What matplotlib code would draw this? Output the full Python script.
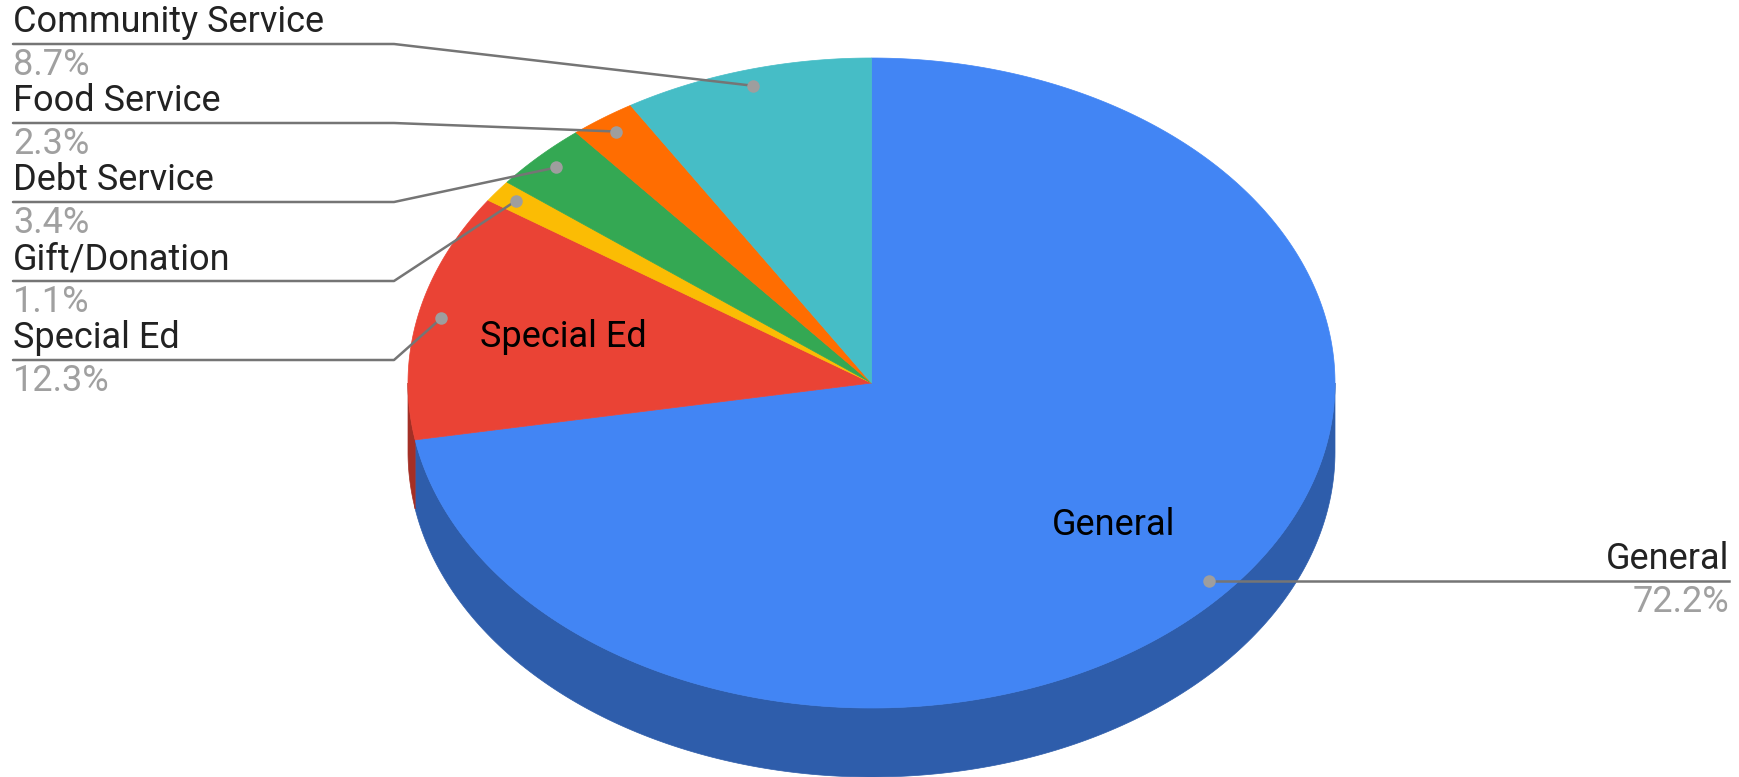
import numpy as np
import matplotlib.pyplot as plt
from matplotlib.patches import Polygon
from matplotlib.colors import to_rgb

# datos (en orden horario desde las 12)
labels = ['General', 'Special Ed', 'Gift/Donation', 'Debt Service', 'Food Service', 'Community Service']
values = [72.2, 12.3, 1.1, 3.4, 2.3, 8.7]
colors = ['#4285F4', '#EA4335', '#FBBC04', '#34A853', '#FF6D01', '#46BDC6']
inner_labels = ['General', 'Special Ed']

plt.rcParams['font.family'] = ['Roboto', 'DejaVu Sans']

W, H = 1740, 777
fig = plt.figure(figsize=(W/100, H/100), dpi=100)
ax = fig.add_axes([0, 0, 1, 1])
ax.set_xlim(0, W)
ax.set_ylim(H, 0)
ax.axis('off')

# geometría del pie 3D (pixeles)
cx, cy, rx, ry, depth = 871.5, 383, 463.5, 325, 69

def pt(theta_deg, r=1.0, dz=0.0):
    t = np.radians(theta_deg)
    return cx + r*rx*np.sin(t), cy - r*ry*np.cos(t) + dz

def darker(c, f=0.70):
    return tuple(v*f for v in to_rgb(c))

vals = np.array(values)
bounds = np.concatenate([[0], np.cumsum(vals)]) / vals.sum() * 360

# 1. paredes laterales (solo la mitad frontal, 90°..270°)
for i, col in enumerate(colors):
    a, b = max(bounds[i], 90), min(bounds[i+1], 270)
    if a >= b:
        continue
    th = np.linspace(a, b, 200)
    top = np.column_stack(pt(th))
    bot = np.column_stack(pt(th[::-1], dz=depth))
    ax.add_patch(Polygon(np.vstack([top, bot]), closed=True,
                         facecolor=darker(col), edgecolor=darker(col), lw=0.5))

# 2. caras superiores
for i, col in enumerate(colors):
    th = np.linspace(bounds[i], bounds[i+1], 400)
    xs, ys = pt(th)
    poly = np.vstack([[cx, cy], np.column_stack([xs, ys])])
    ax.add_patch(Polygon(poly, closed=True, facecolor=col, edgecolor=col, lw=0.5))

mids = (bounds[:-1] + bounds[1:]) / 2
line_c, dot_c = '#757575', '#9E9E9E'
name_c, pct_c = '#222222', '#A0A0A0'
fs = 26

# 3. etiquetas dentro del pie
for i, lab in enumerate(labels):
    if lab in inner_labels:
        x, y = pt(mids[i], r=0.68)
        ax.text(x, y, lab, ha='center', va='center', fontsize=fs, color='black')

# 4. leyenda izquierda con lineas guia
left_order = ['Community Service', 'Food Service', 'Debt Service', 'Gift/Donation', 'Special Ed']
y0, step = 44, 79
for k, lab in enumerate(left_order):
    i = labels.index(lab)
    ly = y0 + k*step
    dx, dy = pt(mids[i], r=0.95)
    ax.plot([13, 394, dx], [ly, ly, dy], color=line_c, lw=1.8, solid_capstyle='round')
    ax.plot(dx, dy, 'o', ms=9, color=dot_c, mec='none')
    ax.text(13, ly - 22, lab, ha='left', va='center', fontsize=fs, color=name_c)
    ax.text(13, ly + 21, f'{values[i]:.1f}%', ha='left', va='center', fontsize=fs, color=pct_c)

# 5. etiqueta derecha (General)
i = labels.index('General')
dx, dy = pt(mids[i], r=0.95)
ax.plot([dx, 1729], [dy, dy], color=line_c, lw=1.8)
ax.plot(dx, dy, 'o', ms=9, color=dot_c, mec='none')
ax.text(1729, dy - 22, 'General', ha='right', va='center', fontsize=fs, color=name_c)
ax.text(1729, dy + 21, f'{values[i]:.1f}%', ha='right', va='center', fontsize=fs, color=pct_c)

fig.savefig('out.png', dpi=100, facecolor='white')
